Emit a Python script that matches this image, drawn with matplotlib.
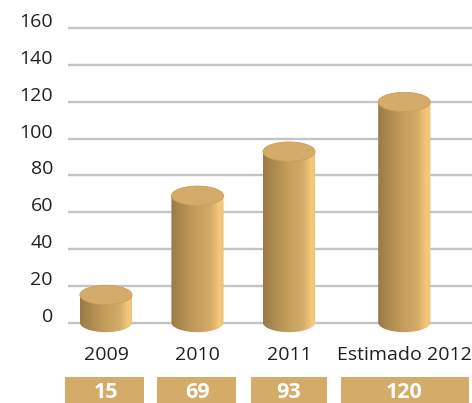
import numpy as np
import matplotlib.pyplot as plt
from matplotlib.colors import LinearSegmentedColormap
from matplotlib.patches import Ellipse, Polygon, Rectangle
from matplotlib.transforms import ScaledTranslation

# Data
categories = ['2009', '2010', '2011', 'Estimado 2012']
values = [15, 69, 93, 120]
yticks = [0, 20, 40, 60, 80, 100, 120, 140, 160]

# Layout
xpos = [0, 1, 2, 3.26]        # last slot is wider because of its long label
bar_w = 0.57
ell_h = 10.5                  # ellipse height in data units
text_col = '#231f20'
gold = '#d4ab68'
grid_col = '#c4c4c8'

plt.rcParams['font.family'] = ['Open Sans', 'DejaVu Sans']

fig = plt.figure(figsize=(4.72, 4.03), dpi=100)
ax = fig.add_axes([0, 0, 1, 1])
ax.set_xlim(-1.158, 4.0)
ax.set_ylim(-43.8, 175.5)
ax.axis('off')

# gridlines
for t in yticks:
    ax.plot([-0.415, 4.0], [t, t], color=grid_col, lw=1.7, zorder=1,
            solid_capstyle='butt')
    ax.text(-0.58, t, str(t), ha='right', va='center', fontsize=14,
            color=text_col,
            transform=ax.transData + ScaledTranslation(0, 6/100, fig.dpi_scale_trans))

# body gradient
cmap = LinearSegmentedColormap.from_list('gold', [
    (0.0, '#9a7a45'), (0.45, '#c49c5c'), (0.75, '#d4ab67'),
    (0.92, '#f6c97a'), (1.0, '#f0c374')])
grad = np.linspace(0, 1, 256).reshape(1, -1)

th = np.linspace(np.pi, 2*np.pi, 60)
for x, v in zip(xpos, values):
    l, r = x - bar_w/2, x + bar_w/2
    arc = np.column_stack([x + bar_w/2*np.cos(th), ell_h/2*np.sin(th) + 0])
    pts = np.vstack([[l, v], arc, [r, v]])
    clip = Polygon(pts, closed=True, facecolor='none', edgecolor='none')
    ax.add_patch(clip)
    im = ax.imshow(grad, cmap=cmap, aspect='auto', extent=[l, r, -ell_h, v],
                   zorder=2, interpolation='bilinear')
    im.set_clip_path(clip)
    ax.add_patch(Ellipse((x, v), bar_w, ell_h, facecolor=gold,
                         edgecolor='#c9a05d', lw=0.6, zorder=3))

# category labels and value boxes
box_edges = [(-0.448, 0.415), (0.555, 1.42), (1.585, 2.42), (2.57, 3.97)]
for x, cat, v, (b0, b1) in zip(xpos, categories, values, box_edges):
    ax.text(x, -17.7, cat, ha='center', va='center', fontsize=14,
            color=text_col)
    ax.add_patch(Rectangle((b0, -43.8), b1 - b0, 14.2, facecolor=gold,
                           edgecolor='none', zorder=2))
    ax.text(x, -38.0, str(v), ha='center', va='center', fontsize=15.5,
            fontweight='bold', color='white', zorder=4)

fig.savefig('out.png', dpi=100)
